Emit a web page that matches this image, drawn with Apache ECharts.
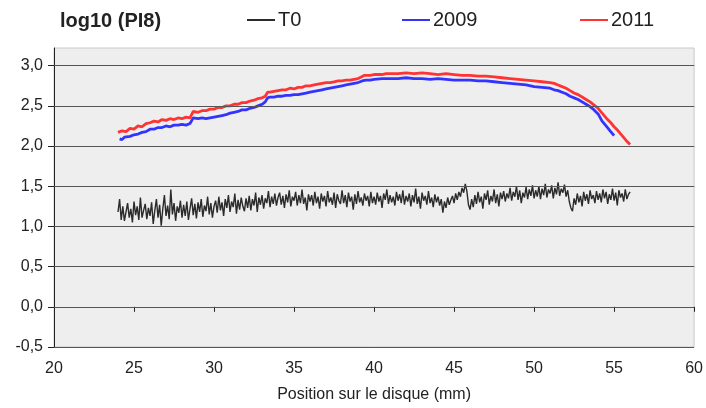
<!DOCTYPE html>
<html>
<head>
<meta charset="utf-8">
<script src="https://cdn.jsdelivr.net/npm/echarts@6/dist/echarts.min.js"></script>
<style>
  html, body { margin: 0; padding: 0; background: #ffffff; }
  #chart { width: 706px; height: 408px; }
</style>
</head>
<body>
<div id="chart"></div>
<script>
// Series names
const seriesNames = ['T0', '2009', '2011'];

// Y axis tick values (log10 of PI8)
const yTicks = [-0.5, 0, 0.5, 1.0, 1.5, 2.0, 2.5, 3.0];
// X axis tick values (position, mm)
const xTicks = [20, 25, 30, 35, 40, 45, 50, 55, 60];

// T0 profile: one reading every 0.1 mm starting at 24.0 mm
const t0Start = 24.0;
const t0Step = 0.1;
const t0Values = [
  1.18,
  1.34,1.08,1.25,1.07,1.18,1.29,1.11,1.22,1.05,1.31,1.14,1.25,1.08,1.36,1.11,1.20,1.28,1.09,1.23,1.13,
  1.30,1.03,1.20,1.34,1.11,1.27,1.01,1.22,1.39,1.13,1.26,1.09,1.46,1.15,1.29,1.07,1.25,1.17,1.32,1.11,
  1.27,1.13,1.31,1.08,1.22,1.35,1.14,1.28,1.10,1.30,1.18,1.34,1.12,1.26,1.19,1.37,1.15,1.29,1.11,1.25,
  1.32,1.17,1.37,1.20,1.30,1.13,1.34,1.23,1.39,1.18,1.31,1.24,1.41,1.16,1.33,1.21,1.36,1.25,1.19,1.35,
  1.23,1.38,1.20,1.34,1.26,1.42,1.18,1.36,1.27,1.39,1.22,1.35,1.29,1.44,1.24,1.37,1.28,1.41,1.26,1.36,
  1.42,1.27,1.38,1.23,1.40,1.30,1.45,1.25,1.37,1.32,1.43,1.26,1.39,1.29,1.46,1.28,1.36,1.20,1.40,1.31,
  1.39,1.26,1.43,1.29,1.37,1.22,1.41,1.31,1.38,1.25,1.44,1.30,1.36,1.27,1.42,1.23,1.40,1.32,1.28,1.45,
  1.29,1.39,1.24,1.42,1.31,1.37,1.21,1.40,1.28,1.44,1.30,1.36,1.26,1.41,1.32,1.38,1.25,1.43,1.29,1.37,
  1.27,1.42,1.31,1.38,1.23,1.41,1.33,1.46,1.28,1.39,1.30,1.37,1.26,1.43,1.32,1.40,1.29,1.45,1.27,1.38,
  1.31,1.41,1.25,1.39,1.30,1.47,1.28,1.37,1.22,1.42,1.32,1.38,1.27,1.44,1.29,1.36,1.24,1.40,1.30,1.37,
  1.26,1.34,1.17,1.31,1.23,1.36,1.27,1.33,1.38,1.29,1.41,1.33,1.43,1.37,1.48,1.42,1.53,1.44,1.27,1.21,
  1.34,1.24,1.39,1.28,1.43,1.30,1.37,1.22,1.41,1.33,1.45,1.27,1.38,1.31,1.46,1.29,1.40,1.25,1.42,1.34,
  1.44,1.31,1.41,1.35,1.48,1.32,1.43,1.37,1.50,1.33,1.45,1.29,1.42,1.36,1.49,1.34,1.46,1.38,1.51,1.35,
  1.45,1.37,1.50,1.34,1.47,1.39,1.53,1.36,1.46,1.41,1.51,1.35,1.48,1.40,1.55,1.38,1.47,1.42,1.52,1.37,
  1.45,1.31,1.23,1.19,1.35,1.27,1.41,1.30,1.38,1.25,1.43,1.32,1.40,1.28,1.45,1.34,1.39,1.29,1.44,1.33,
  1.41,1.30,1.46,1.35,1.43,1.28,1.40,1.33,1.47,1.32,1.42,1.26,1.45,1.36,1.41,1.31,1.46,1.34,1.40,1.43
];

// 2009 profile: [position mm, log10(PI8)]
const data2009 = [
  [24.1,2.09],[24.25,2.08],[24.4,2.11],[24.5,2.10],[24.75,2.12],[25.0,2.14],[25.25,2.15],[25.5,2.17],[25.75,2.18],
  [26.0,2.21],[26.25,2.21],[26.5,2.23],[26.75,2.23],[27.0,2.25],[27.25,2.24],[27.5,2.26],[27.75,2.26],
  [28.0,2.27],[28.25,2.26],[28.5,2.28],[28.6,2.29],[28.7,2.35],[29.0,2.34],[29.25,2.35],[29.5,2.34],
  [29.75,2.35],[30.0,2.36],[30.25,2.37],[30.5,2.38],[30.75,2.39],[31.0,2.41],[31.25,2.42],[31.5,2.43],
  [31.75,2.45],[32.0,2.45],[32.25,2.47],[32.5,2.48],[32.75,2.50],[33.0,2.52],[33.2,2.55],[33.35,2.60],
  [33.5,2.61],[33.75,2.61],[34.0,2.62],[34.25,2.62],[34.5,2.63],[34.75,2.63],[35.0,2.64],[35.25,2.64],
  [35.5,2.65],[35.75,2.66],[36.0,2.67],[36.25,2.68],[36.5,2.69],[36.75,2.70],[37.0,2.71],[37.25,2.72],
  [37.5,2.73],[37.75,2.74],[38.0,2.75],[38.25,2.76],[38.5,2.77],[38.75,2.78],[39.0,2.79],[39.25,2.81],
  [39.5,2.82],[39.75,2.82],[40.0,2.83],[40.5,2.84],[41.0,2.84],[41.5,2.84],[42.0,2.85],[42.5,2.84],
  [43.0,2.84],[43.5,2.83],[44.0,2.84],[44.5,2.83],[45.0,2.82],[45.5,2.82],[46.0,2.82],[46.5,2.81],
  [47.0,2.81],[47.5,2.80],[48.0,2.79],[48.5,2.78],[49.0,2.77],[49.5,2.76],[50.0,2.74],[50.5,2.73],
  [51.0,2.72],[51.25,2.70],[51.5,2.69],[51.75,2.67],[52.0,2.65],[52.25,2.62],[52.5,2.60],[52.75,2.58],
  [53.0,2.55],[53.25,2.52],[53.5,2.49],[53.75,2.45],[54.0,2.40],[54.25,2.31],[54.5,2.25],[54.75,2.19],
  [55.0,2.13]
];

// 2011 profile: [position mm, log10(PI8)]
const data2011 = [
  [24.0,2.17],[24.25,2.19],[24.5,2.18],[24.75,2.22],[25.0,2.21],[25.25,2.25],[25.5,2.24],[25.75,2.28],
  [26.0,2.29],[26.25,2.31],[26.5,2.30],[26.75,2.33],[27.0,2.32],[27.25,2.34],[27.5,2.33],[27.75,2.35],
  [28.0,2.34],[28.25,2.36],[28.5,2.35],[28.6,2.37],[28.7,2.43],[29.0,2.42],[29.25,2.44],[29.5,2.44],
  [29.75,2.46],[30.0,2.46],[30.25,2.48],[30.5,2.48],[30.75,2.50],[31.0,2.50],[31.25,2.52],[31.5,2.52],
  [31.75,2.54],[32.0,2.54],[32.25,2.56],[32.5,2.57],[32.75,2.59],[33.0,2.60],[33.2,2.62],[33.35,2.67],
  [33.5,2.67],[33.75,2.68],[34.0,2.69],[34.25,2.70],[34.5,2.70],[34.75,2.72],[35.0,2.71],[35.25,2.73],
  [35.5,2.73],[35.75,2.75],[36.0,2.75],[36.25,2.76],[36.5,2.77],[36.75,2.78],[37.0,2.79],[37.25,2.79],
  [37.5,2.80],[37.75,2.81],[38.0,2.81],[38.25,2.82],[38.5,2.82],[38.75,2.83],[39.0,2.84],[39.2,2.86],
  [39.4,2.88],[39.75,2.88],[40.0,2.89],[40.25,2.89],[40.5,2.89],[40.75,2.90],[41.0,2.90],[41.5,2.90],
  [42.0,2.91],[42.5,2.90],[43.0,2.91],[43.5,2.90],[44.0,2.89],[44.5,2.90],[45.0,2.89],[45.5,2.88],
  [46.0,2.88],[46.5,2.87],[47.0,2.87],[47.5,2.86],[48.0,2.85],[48.5,2.84],[49.0,2.83],[49.5,2.82],
  [50.0,2.81],[50.5,2.80],[51.0,2.79],[51.25,2.78],[51.5,2.76],[51.75,2.74],[52.0,2.72],[52.25,2.69],
  [52.5,2.66],[52.75,2.64],[53.0,2.61],[53.25,2.58],[53.5,2.55],[53.75,2.51],[54.0,2.47],[54.25,2.41],
  [54.5,2.35],[54.75,2.30],[55.0,2.24],[55.25,2.19],[55.5,2.13],[55.75,2.07],[56.0,2.02]
];

const colors = { T0: '#2b2b2b', '2009': '#3333ff', '2011': '#ff3333' };
const fontFamily = '"Liberation Sans", Arial, sans-serif';

const t0Data = t0Values.map((v, i) => [+(t0Start + i * t0Step).toFixed(2), v]);

const chart = echarts.init(document.getElementById('chart'), null, { renderer: 'canvas' });

const legendBase = {
  top: 5,
  icon: 'rect',
  itemWidth: 28,
  itemHeight: 2,
  itemGap: 0,
  selectedMode: false,
  textStyle: { fontFamily, fontSize: 20, color: '#222', padding: [0, 0, 0, -2] }
};

chart.setOption({
  animation: false,
  backgroundColor: '#ffffff',
  title: {
    text: 'log10 (PI8)',
    left: 55,
    top: 6,
    textStyle: { fontFamily, fontSize: 20, fontWeight: 'bold', color: '#222' }
  },
  legend: [
    Object.assign({}, legendBase, { left: 242, data: [seriesNames[0]] }),
    Object.assign({}, legendBase, { left: 397, data: [seriesNames[1]] }),
    Object.assign({}, legendBase, { left: 575, data: [seriesNames[2]] })
  ],
  grid: {
    left: 54, right: 10, top: 48, bottom: 57,
    show: true,
    backgroundColor: '#eeeeee',
    borderColor: '#c8c8c8',
    borderWidth: 1
  },
  xAxis: {
    type: 'value',
    min: 20, max: 60, interval: 5,
    name: 'Position sur le disque (mm)',
    nameLocation: 'middle',
    nameGap: 40,
    nameTextStyle: { fontFamily, fontSize: 16, color: '#222' },
    axisLine: { show: true, lineStyle: { color: '#222', width: 1 } },
    axisTick: { show: true, length: 5, lineStyle: { color: '#222' }, customValues: xTicks },
    axisLabel: { margin: 14, fontFamily, fontSize: 16, color: '#222', customValues: xTicks },
    splitLine: { show: false }
  },
  yAxis: {
    type: 'value',
    min: -0.5, max: 3.22, interval: 0.5,
    axisLine: { show: true, lineStyle: { color: '#222', width: 1 } },
    axisTick: { show: true, length: 6, lineStyle: { color: '#222' }, customValues: yTicks },
    axisLabel: {
      margin: 11, fontFamily, fontSize: 16, color: '#222', customValues: yTicks,
      formatter: v => v.toFixed(1).replace('.', ',')
    },
    splitLine: { show: false }
  },
  series: [
    {
      // horizontal grid lines at each labelled value
      name: 'grid',
      type: 'line',
      data: [],
      silent: true,
      z: 1,
      markLine: {
        silent: true,
        symbol: ['none', 'none'],
        label: { show: false },
        lineStyle: { color: '#555', width: 1, type: 'solid' },
        data: yTicks.map(v => ({ yAxis: v }))
      }
    },
    {
      name: seriesNames[0], type: 'line', data: t0Data, showSymbol: false, z: 3,
      color: colors.T0, lineStyle: { color: colors.T0, width: 1.4 }
    },
    {
      name: seriesNames[1], type: 'line', data: data2009, showSymbol: false, z: 3,
      color: colors['2009'], lineStyle: { color: colors['2009'], width: 2.8 }
    },
    {
      name: seriesNames[2], type: 'line', data: data2011, showSymbol: false, z: 4,
      color: colors['2011'], lineStyle: { color: colors['2011'], width: 2.8 }
    }
  ]
});
</script>
</body>
</html>
